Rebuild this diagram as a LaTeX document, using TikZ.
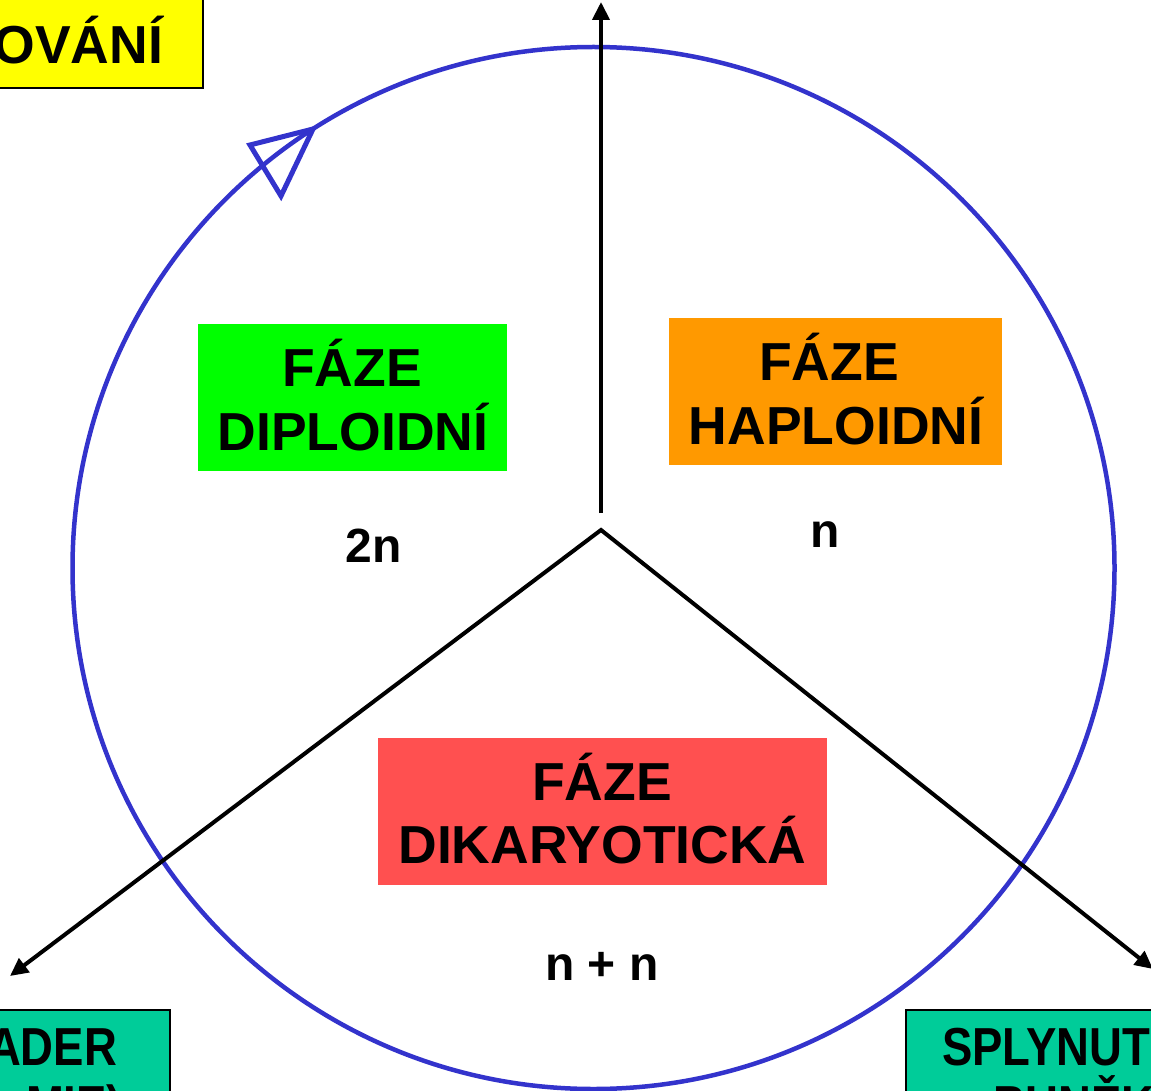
\documentclass[tikz,border=0pt]{standalone}
\usepackage{fontspec}
\setmainfont{Liberation Sans}
\newfontfamily\evfont[FakeStretch=0.85]{Liberation Sans}
\usetikzlibrary{arrows.meta}
\definecolor{cyc}{RGB}{51,51,204}
\definecolor{diploid}{RGB}{0,255,0}
\definecolor{haploid}{RGB}{255,153,0}
\definecolor{dikar}{RGB}{255,80,80}
\definecolor{event}{RGB}{0,204,153}
\definecolor{yel}{RGB}{255,255,0}
\begin{document}
\begin{tikzpicture}[x=1pt,y=-1pt,
  phasebox/.style={draw=none,inner sep=0pt,outer sep=0pt},
  eventbox/.style={draw=black,line width=2pt,inner sep=0pt,outer sep=0pt,minimum width=320pt,minimum height=200pt},
  lbl/.style={font=\bfseries\fontsize{53.5}{60}\selectfont,inner sep=0pt,outer sep=0pt},
  evlbl/.style={font=\evfont\bfseries\fontsize{53.5}{60}\selectfont,inner sep=0pt,outer sep=0pt},
  ploidy/.style={font=\bfseries\fontsize{48}{56}\selectfont,inner sep=0pt,outer sep=0pt,anchor=base},
  conn/.style={draw=black,line width=4pt,-{Triangle[length=18pt,width=17pt]}}
]
\useasboundingbox (0,0) rectangle (1151,1091);
\clip (0,0) rectangle (1151,1091);

% cycle circle
\node[circle,draw=cyc,line width=4.5pt,minimum size=1042pt,inner sep=0pt] (cyclering) at (593.5,568) {};
\draw[cyc,line width=5pt,line join=miter] (313,129) -- (250,145) -- (281,196) -- cycle;

% connectors
\coordinate (apex) at (601,530);
\coordinate (vstart) at (601,513);
\coordinate (toptip) at (601,2);
\coordinate (ltip) at (10,976);
\coordinate (rtip) at (1153,969);
\draw[conn] (vstart) -- (toptip);
\draw[draw=black,line width=4pt,line join=miter,{Triangle[length=18pt,width=17pt]}-{Triangle[length=18pt,width=17pt]}] (ltip) -- (apex) -- (rtip);

% phase boxes
\node[phasebox,fill=diploid,minimum width=309pt,minimum height=147pt] (dip) at (352.5,397.5) {};
\node[lbl,anchor=base] (dipA) at (352,386) {FÁZE};
\node[lbl,anchor=base] (dipB) at (353,450) {DIPLOIDNÍ};

\node[phasebox,fill=haploid,minimum width=333pt,minimum height=147pt] (hap) at (835.5,391.5) {};
\node[lbl,anchor=base] (hapA) at (829,380) {FÁZE};
\node[lbl,anchor=base] (hapB) at (836,444) {HAPLOIDNÍ};

\node[phasebox,fill=dikar,minimum width=449pt,minimum height=147pt] (dik) at (602.5,811.5) {};
\node[lbl,anchor=base] (dikA) at (602,800) {FÁZE};
\node[lbl,anchor=base] (dikB) at (602.5,863) {DIKARYOTICKÁ};

% ploidy labels
\node[ploidy] (p2n) at (373.5,562) {2n};
\node[ploidy] (pn) at (825,547) {n};
\node[ploidy] (pnn) at (602,980) {n + n};

% cut-off event boxes
\node[eventbox,fill=yel,anchor=south east] (topev) at (203,88) {};
\node[lbl,anchor=base east] (topevA) at (163,64) {OVÁNÍ};

\node[eventbox,fill=event,anchor=north east] (lev) at (170,1010) {};
\node[evlbl,anchor=base east] (levA) at (117,1065) {ADER};
\node[evlbl,anchor=base east] (levB) at (122,1123) {MIE)};

\node[eventbox,fill=event,anchor=north west] (rev) at (906,1010) {};
\node[evlbl,anchor=base west] (revA) at (942,1065) {SPLYNUT};
\node[evlbl,anchor=base west] (revB) at (993,1123) {BUNĚK};
\end{tikzpicture}
\end{document}
